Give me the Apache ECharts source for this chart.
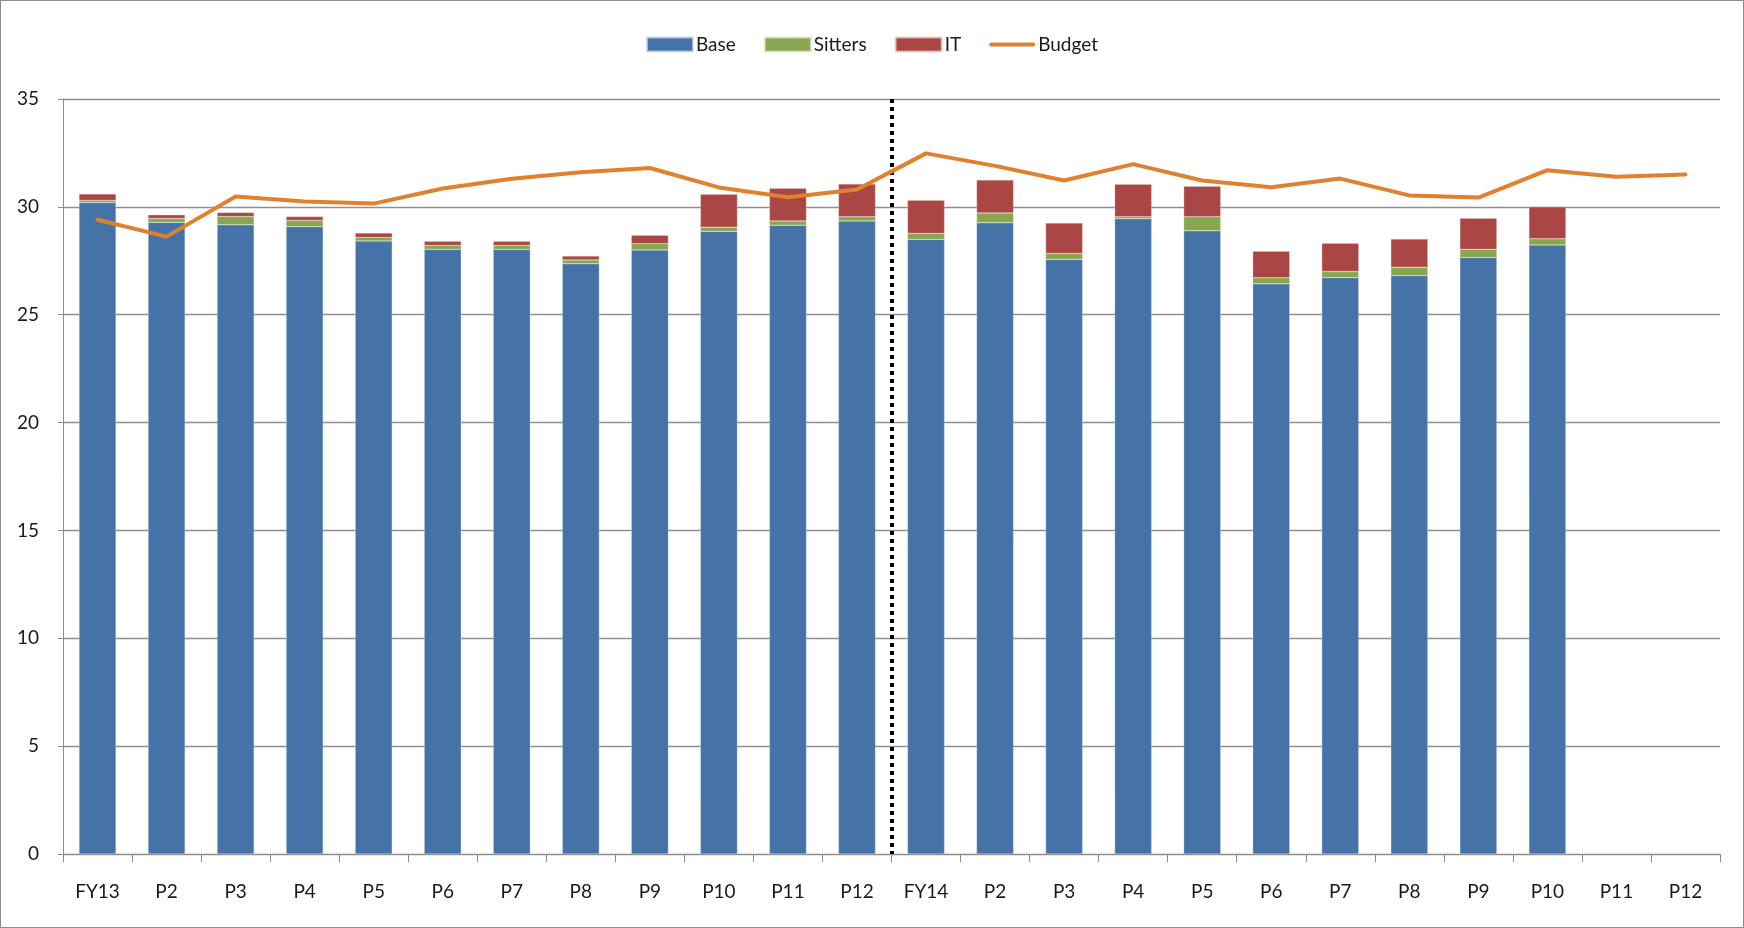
<!DOCTYPE html>
<html>
<head>
<meta charset="utf-8">
<script src="https://cdn.jsdelivr.net/npm/echarts@6/dist/echarts.min.js"></script>
<style>
  html, body { margin: 0; padding: 0; background: #fff; }
  #chartMain { position: absolute; left: 0; top: 0; width: 1742px; height: 926px; border: 1px solid #8c8c8c; }
</style>
</head>
<body>
<div id="chartMain"></div>
<script>
var categories = ['FY13', 'P2', 'P3', 'P4', 'P5', 'P6', 'P7', 'P8', 'P9', 'P10', 'P11', 'P12',
                  'FY14', 'P2', 'P3', 'P4', 'P5', 'P6', 'P7', 'P8', 'P9', 'P10', 'P11', 'P12'];
var baseData = [30.2, 29.28, 29.17, 29.08, 28.42, 28.03, 28.03, 27.36, 28.0, 28.86, 29.15, 29.35,
                28.49, 29.26, 27.56, 29.45, 28.89, 26.43, 26.72, 26.81, 27.65, 28.23, null, null];
var sittersData = [0.1, 0.18, 0.38, 0.29, 0.16, 0.18, 0.18, 0.18, 0.29, 0.2, 0.2, 0.19,
                   0.28, 0.46, 0.28, 0.09, 0.65, 0.28, 0.28, 0.39, 0.38, 0.29, null, null];
var itData = [0.3, 0.17, 0.19, 0.18, 0.21, 0.19, 0.19, 0.18, 0.39, 1.53, 1.51, 1.52,
              1.54, 1.53, 1.41, 1.51, 1.42, 1.23, 1.31, 1.31, 1.44, 1.48, null, null];
var budgetData = [29.4, 28.62, 30.48, 30.25, 30.15, 30.85, 31.3, 31.6, 31.8, 30.9, 30.45, 30.8,
                  32.48, 31.9, 31.22, 31.98, 31.22, 30.91, 31.31, 30.53, 30.43, 31.7, 31.4, 31.5];
var yTicks = [0, 5, 10, 15, 20, 25, 30, 35];
var dividerAt = 12;

var myChart = echarts.init(document.getElementById('chartMain'));
var labelFont = "Lato, 'Open Sans', sans-serif";

var option = {
    animation: false,
    backgroundColor: '#fff',
    legend: {
        data: [
            { name: 'Base', icon: 'rect' },
            { name: 'Sitters', icon: 'rect' },
            { name: 'IT', icon: 'rect' },
            { name: 'Budget', icon: 'path://M2,0 L44,0 Q46,0 46,2 Q46,4 44,4 L2,4 Q0,4 0,2 Q0,0 2,0 Z' }
        ],
        top: 29,
        left: 'center',
        itemWidth: 46,
        itemHeight: 14,
        itemGap: 28,
        textStyle: {
            fontSize: 19,
            fontFamily: labelFont,
            color: '#1a1a1a',
            padding: [0, 0, 0, -2]
        }
    },
    grid: {
        left: 62,
        right: 23,
        top: 98,
        bottom: 73
    },
    xAxis: [{
        type: 'category',
        data: categories,
        axisLine: { lineStyle: { color: '#8c8c8c', width: 1 } },
        axisTick: { show: true, length: 8, lineStyle: { color: '#8c8c8c' } },
        axisLabel: {
            margin: 28,
            fontSize: 19,
            fontFamily: labelFont,
            color: '#1a1a1a'
        }
    }, {
        type: 'value',
        min: 0,
        max: categories.length,
        show: false
    }],
    yAxis: {
        type: 'value',
        min: yTicks[0],
        max: yTicks[yTicks.length - 1],
        interval: 5,
        axisLine: { show: true, lineStyle: { color: '#8c8c8c', width: 1 } },
        axisTick: { show: true, length: 5, lineStyle: { color: '#8c8c8c' } },
        axisLabel: {
            margin: 24,
            fontSize: 19,
            fontFamily: labelFont,
            color: '#1a1a1a'
        },
        splitLine: { lineStyle: { color: '#8f8f8f', width: 1.3 } }
    },
    series: [
        {
            name: 'Base',
            type: 'bar',
            stack: 'total',
            barWidth: 37,
            itemStyle: { color: '#4572a7', borderColor: 'rgba(200,215,235,0.7)', borderWidth: 0.5 },
            data: baseData
        },
        {
            name: 'Sitters',
            type: 'bar',
            stack: 'total',
            barWidth: 37,
            itemStyle: { color: '#89a54e', borderColor: 'rgba(215,230,195,0.7)', borderWidth: 0.5 },
            data: sittersData
        },
        {
            name: 'IT',
            type: 'bar',
            stack: 'total',
            barWidth: 37,
            itemStyle: { color: '#aa4643', borderColor: 'rgba(235,200,200,0.7)', borderWidth: 0.5 },
            data: itData
        },
        {
            name: 'Budget',
            type: 'line',
            symbol: 'none',
            lineStyle: { color: '#e0812f', width: 4, cap: 'round', join: 'round' },
            itemStyle: { color: '#e0812f' },
            z: 5,
            data: budgetData
        },
        {
            name: 'divider',
            type: 'line',
            xAxisIndex: 1,
            data: [],
            z: 6,
            markLine: {
                silent: true,
                symbol: 'none',
                label: { show: false },
                lineStyle: { color: '#000', width: 4, type: [4, 4] },
                data: [[{ coord: [dividerAt, yTicks[yTicks.length - 1]] }, { coord: [dividerAt, 0] }]]
            }
        }
    ]
};
myChart.setOption(option);
window.onresize = function () {
    myChart.resize();
};
</script>
</body>
</html>
